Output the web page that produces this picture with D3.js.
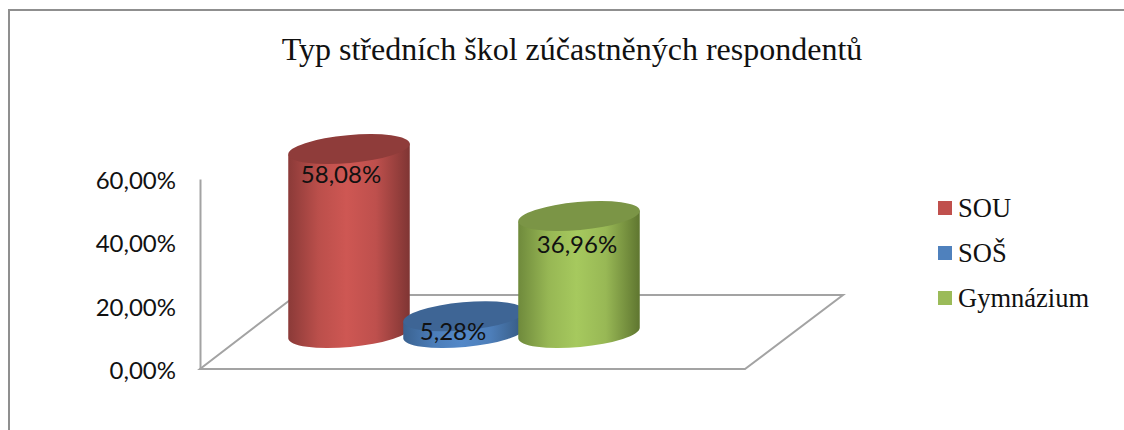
<!DOCTYPE html>
<html><head><meta charset="utf-8">
<script src="https://cdn.jsdelivr.net/npm/d3@7/dist/d3.min.js"></script>
<style>html,body{margin:0;padding:0;background:#fff;overflow:hidden}svg{display:block}</style>
</head><body><svg id="c" width="1124" height="430"></svg>
<script>
const titleText = "Typ středních škol zúčastněných respondentů";
const categories = ["SOU", "SOŠ", "Gymnázium"];
const values = [58.08, 5.28, 36.96];
const tickValues = [0, 20, 40, 60];
const sideColors = [["#8b3a38","#ce5753","#7f3533"],["#3a6290","#5388c8","#35587f"],["#6f8a3c","#a6c95e","#5f7630"]];
const topColors = ["#8f3c3a","#3e6595","#7b9546"];
const legendColors = ["#c0504d","#4f81bd","#9bbb59"];

const svg = d3.select("#c");
const fmt = v => d3.format(".2f")(v).replace(".", ",") + "%";
const y = d3.scaleLinear().domain([0, 60]).range([369, 179]);
const x = d3.scalePoint().domain(categories).range([349, 579]);
const baseLift = 36, rx = 61, ry = 14, rot = -5.2;
const labelDx = [-8, -11, -2], labelDy = [33.5, 24, 37];
const grey = "#a3a3a3";

// frame
svg.append("path").attr("d","M9,430V10H1124").attr("fill","none").attr("stroke","#8f8f8f").attr("stroke-width",2);

// title
svg.append("text").attr("x",572).attr("y",60).attr("text-anchor","middle")
  .attr("font-family","Liberation Serif").attr("font-size",32).attr("fill","#111").text(titleText);

// floor
svg.append("path").attr("d","M290,295H843L745,369H200L290,300").attr("fill","none").attr("stroke",grey).attr("stroke-width",2);

// axis
const ax = svg.append("g").attr("transform","translate(200,0)")
  .call(d3.axisLeft(y).tickValues(tickValues).tickFormat(fmt).tickSize(0).tickPadding(24));
ax.select(".domain").attr("stroke",grey).attr("stroke-width",2);
ax.selectAll("text").attr("font-family","Lato").attr("font-size",24).attr("fill","#111").attr("dy","0.39em");

// gradients
const defs = svg.append("defs");
categories.forEach((c,i) => {
  const g = defs.append("linearGradient").attr("id","g"+i);
  const [a,b,e] = sideColors[i];
  [[0,a],[0.25,d3.interpolateRgb(a,b)(0.72)],[0.48,b],[0.72,d3.interpolateRgb(b,e)(0.2)],[1,e]]
    .forEach(([o,col]) => g.append("stop").attr("offset",o).attr("stop-color",col));
});

// cylinders
const dx = rx*Math.cos(rot*Math.PI/180), dyy = rx*Math.sin(rot*Math.PI/180);
categories.forEach((c,i) => {
  const cx = x(c), by = y(0)-baseLift, ty = by-(y(0)-y(values[i]));
  const g = svg.append("g");
  g.append("path").attr("fill",`url(#g${i})`).attr("d",
    `M${cx-dx},${ty-dyy}L${cx-dx},${by-dyy}A${rx},${ry},${rot},0,0,${cx+dx},${by+dyy}L${cx+dx},${ty+dyy}Z`);
  g.append("ellipse").attr("cx",cx).attr("cy",ty).attr("rx",rx).attr("ry",ry)
    .attr("transform",`rotate(${rot},${cx},${ty})`).attr("fill",topColors[i]);
});
categories.forEach((c,i) => {
  const ty = y(values[i])-baseLift;
  svg.append("text").attr("x",x(c)+labelDx[i]).attr("y",ty+labelDy[i]).attr("text-anchor","middle")
    .attr("font-family","Lato").attr("font-size",24).attr("fill","#111").text(fmt(values[i]));
});

// legend
categories.forEach((c,i) => {
  const ly = d3.scalePoint().domain(categories).range([201,291])(c);
  svg.append("rect").attr("x",938).attr("y",ly).attr("width",14).attr("height",14).attr("fill",legendColors[i]);
  svg.append("text").attr("x",958).attr("y",ly+16).attr("font-family","Liberation Serif").attr("font-size",26.5).attr("fill","#111").text(c);
});
</script></body></html>
